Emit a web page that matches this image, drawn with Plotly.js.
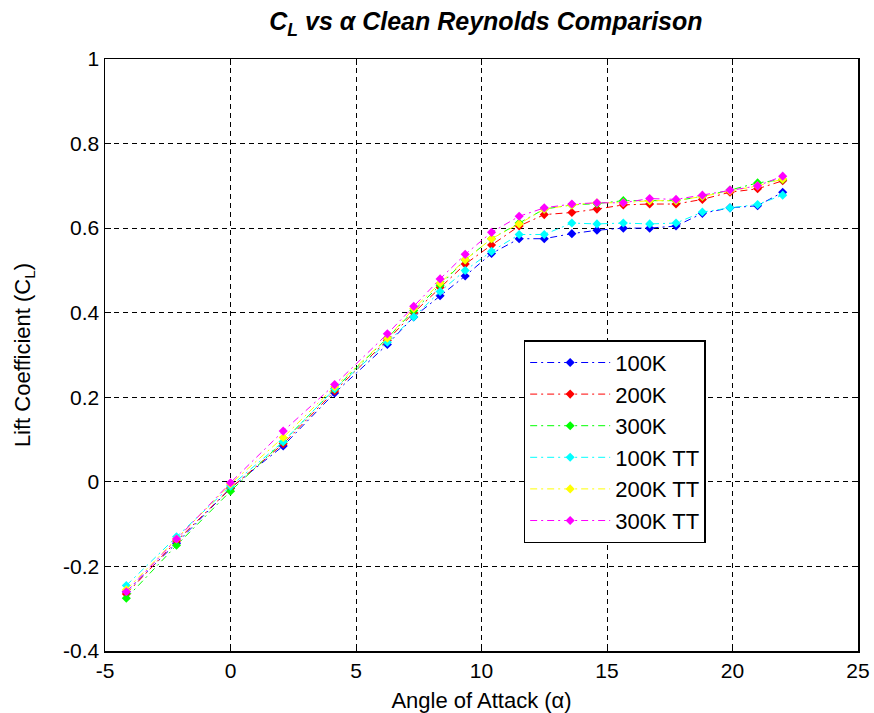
<!DOCTYPE html>
<html>
<head>
<meta charset="utf-8">
<script src="https://cdn.plot.ly/plotly-3.0.1.min.js"></script>
<style>html,body{margin:0;padding:0;background:#fff;}#chart{width:874px;height:713px;}</style>
</head>
<body>
<div id="chart"></div>
<script>
const alpha = [-4.15,-2.15,0,2.1,4.15,6.25,7.3,8.35,9.35,10.4,11.5,12.5,13.6,14.6,15.65,16.7,17.75,18.8,19.9,21,22];
const cl100   = [-0.26,-0.145,-0.015,0.085,0.21,0.325,0.39,0.44,0.487,0.54,0.575,0.575,0.587,0.595,0.60,0.60,0.605,0.635,0.648,0.653,0.685];
const cl200   = [-0.265,-0.14,-0.015,0.09,0.215,0.335,0.40,0.46,0.515,0.56,0.605,0.632,0.637,0.645,0.655,0.657,0.657,0.668,0.685,0.693,0.712];
const cl300   = [-0.275,-0.15,-0.022,0.095,0.22,0.34,0.405,0.465,0.525,0.575,0.612,0.645,0.655,0.658,0.665,0.665,0.665,0.675,0.69,0.707,0.715];
const cl100tt = [-0.245,-0.13,-0.01,0.095,0.22,0.33,0.39,0.45,0.50,0.545,0.585,0.585,0.612,0.61,0.612,0.61,0.612,0.638,0.648,0.656,0.678];
const cl200tt = [-0.255,-0.135,-0.005,0.105,0.225,0.34,0.41,0.47,0.525,0.575,0.61,0.645,0.655,0.66,0.66,0.665,0.665,0.675,0.688,0.70,0.716];
const cl300tt = [-0.26,-0.135,-0.002,0.12,0.23,0.35,0.415,0.48,0.538,0.59,0.628,0.648,0.657,0.66,0.66,0.67,0.668,0.678,0.69,0.70,0.723];
const seriesNames = ["100K","200K","300K","100K TT","200K TT","300K TT"];
const seriesColors = ["#0000ff","#ff0000","#00ff00","#00ffff","#ffff00","#ff00ff"];
const seriesValues = [cl100, cl200, cl300, cl100tt, cl200tt, cl300tt];
const xTicks = [-5,0,5,10,15,20,25];
const yTicks = [-0.4,-0.2,0,0.2,0.4,0.6,0.8,1];

const traces = seriesValues.map((v,i)=>({
  x: alpha, y: v, name: seriesNames[i], type: 'scatter', mode: 'lines+markers',
  line: {color: seriesColors[i], width: 1, dash: '7px,4px,2px,4px'},
  marker: {symbol: 'diamond', size: 7, color: seriesColors[i]}
}));

const font = {family: 'Liberation Sans, Arial, sans-serif', color: '#000'};
const axisCommon = {
  showline: true, linecolor: '#000', linewidth: 1.5, mirror: 'ticks',
  ticks: 'inside', ticklen: 6, tickcolor: '#000', tickwidth: 1,
  showgrid: true, gridcolor: '#000', gridwidth: 1, griddash: '5px,4px',
  zeroline: false, tickfont: Object.assign({size: 21}, font)
};
const layout = {
  width: 874, height: 713,
  paper_bgcolor: '#fff', plot_bgcolor: '#fff',
  margin: {l: 105, r: 16, t: 59, b: 62},
  title: {text: '<b><i>C<sub>L</sub> vs α Clean Reynolds Comparison</i></b>', x: 0.556, xanchor: 'center', y: 0.982, yanchor: 'top', font: Object.assign({size: 25}, font)},
  xaxis: Object.assign({}, axisCommon, {range: [-5,25], tickvals: xTicks, ticktext: xTicks.map(String),
    title: {text: 'Angle of Attack (α)', standoff: 12, font: Object.assign({size: 22}, font)}}),
  yaxis: Object.assign({}, axisCommon, {range: [-0.4,1], tickvals: yTicks, ticktext: yTicks.map(String),
    title: {text: 'Lift Coefficient (C<sub>L</sub>)', standoff: 26, font: Object.assign({size: 22}, font)}}),
  legend: {x: 0.556, y: 0.525, xanchor: 'left', yanchor: 'top', bgcolor: '#fff', bordercolor: '#000', borderwidth: 1.5,
    font: Object.assign({size: 22}, font), itemwidth: 80, tracegroupgap: 0},
  showlegend: true
};
Plotly.newPlot('chart', traces, layout, {displayModeBar: false, staticPlot: true});
</script>
</body>
</html>
